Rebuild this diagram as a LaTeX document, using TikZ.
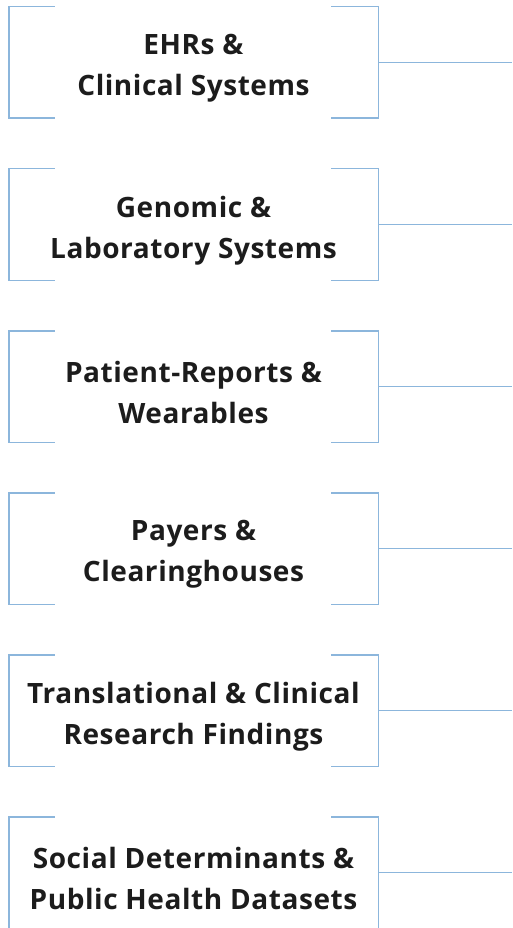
\documentclass[tikz,border=0pt]{standalone}
\usepackage{fontspec}
\IfFontExistsTF{Noto Sans SemiBold}{%
  \newfontfamily\semib{Noto Sans SemiBold}[LetterSpace=3]%
}{%
  \IfFontExistsTF{Noto Sans Medium}{%
    \newfontfamily\semib{Noto Sans Medium}[LetterSpace=4]%
  }{%
    \newfontfamily\semib{Open Sans Bold}[LetterSpace=2]%
  }%
}
\definecolor{brk}{RGB}{140,182,220}
\definecolor{txt}{RGB}{28,28,28}
\begin{document}
\begin{tikzpicture}[x=1pt,y=-1pt,
  srcbox/.style={minimum width=369pt,minimum height=111pt,inner sep=0pt},
  srctext/.style={align=center,text=txt,inner sep=0pt,font=\semib\fontsize{28}{41}\selectfont},
  brkline/.style={draw=brk,line width=1.4pt},
]
\useasboundingbox (0,0) rectangle (512,928);
\foreach \i/\t in {0/{EHRs \&\\Clinical Systems},
                   1/{Genomic \&\\Laboratory Systems},
                   2/{Patient-Reports \&\\Wearables},
                   3/{Payers \&\\Clearinghouses},
                   4/{Translational \& Clinical\\Research Findings},
                   5/{Social Determinants \&\\Public Health Datasets}}{
  \pgfmathsetmacro{\yy}{62.5+162*\i}
  \node[srcbox] (b\i) at (193.5,\yy) {};
  \node[srctext] (t\i) at (193.5,\yy+6) {\t};
  \coordinate (e\i) at (512,\yy);
  \draw[brkline] ([xshift=46pt]b\i.north west) -- (b\i.north west) -- (b\i.south west) -- ([xshift=46pt]b\i.south west);
  \draw[brkline] ([xshift=-47pt]b\i.north east) -- (b\i.north east) -- (b\i.south east) -- ([xshift=-47pt]b\i.south east);
  \draw[brkline] (b\i.east) -- (e\i);
}
\end{tikzpicture}
\end{document}
